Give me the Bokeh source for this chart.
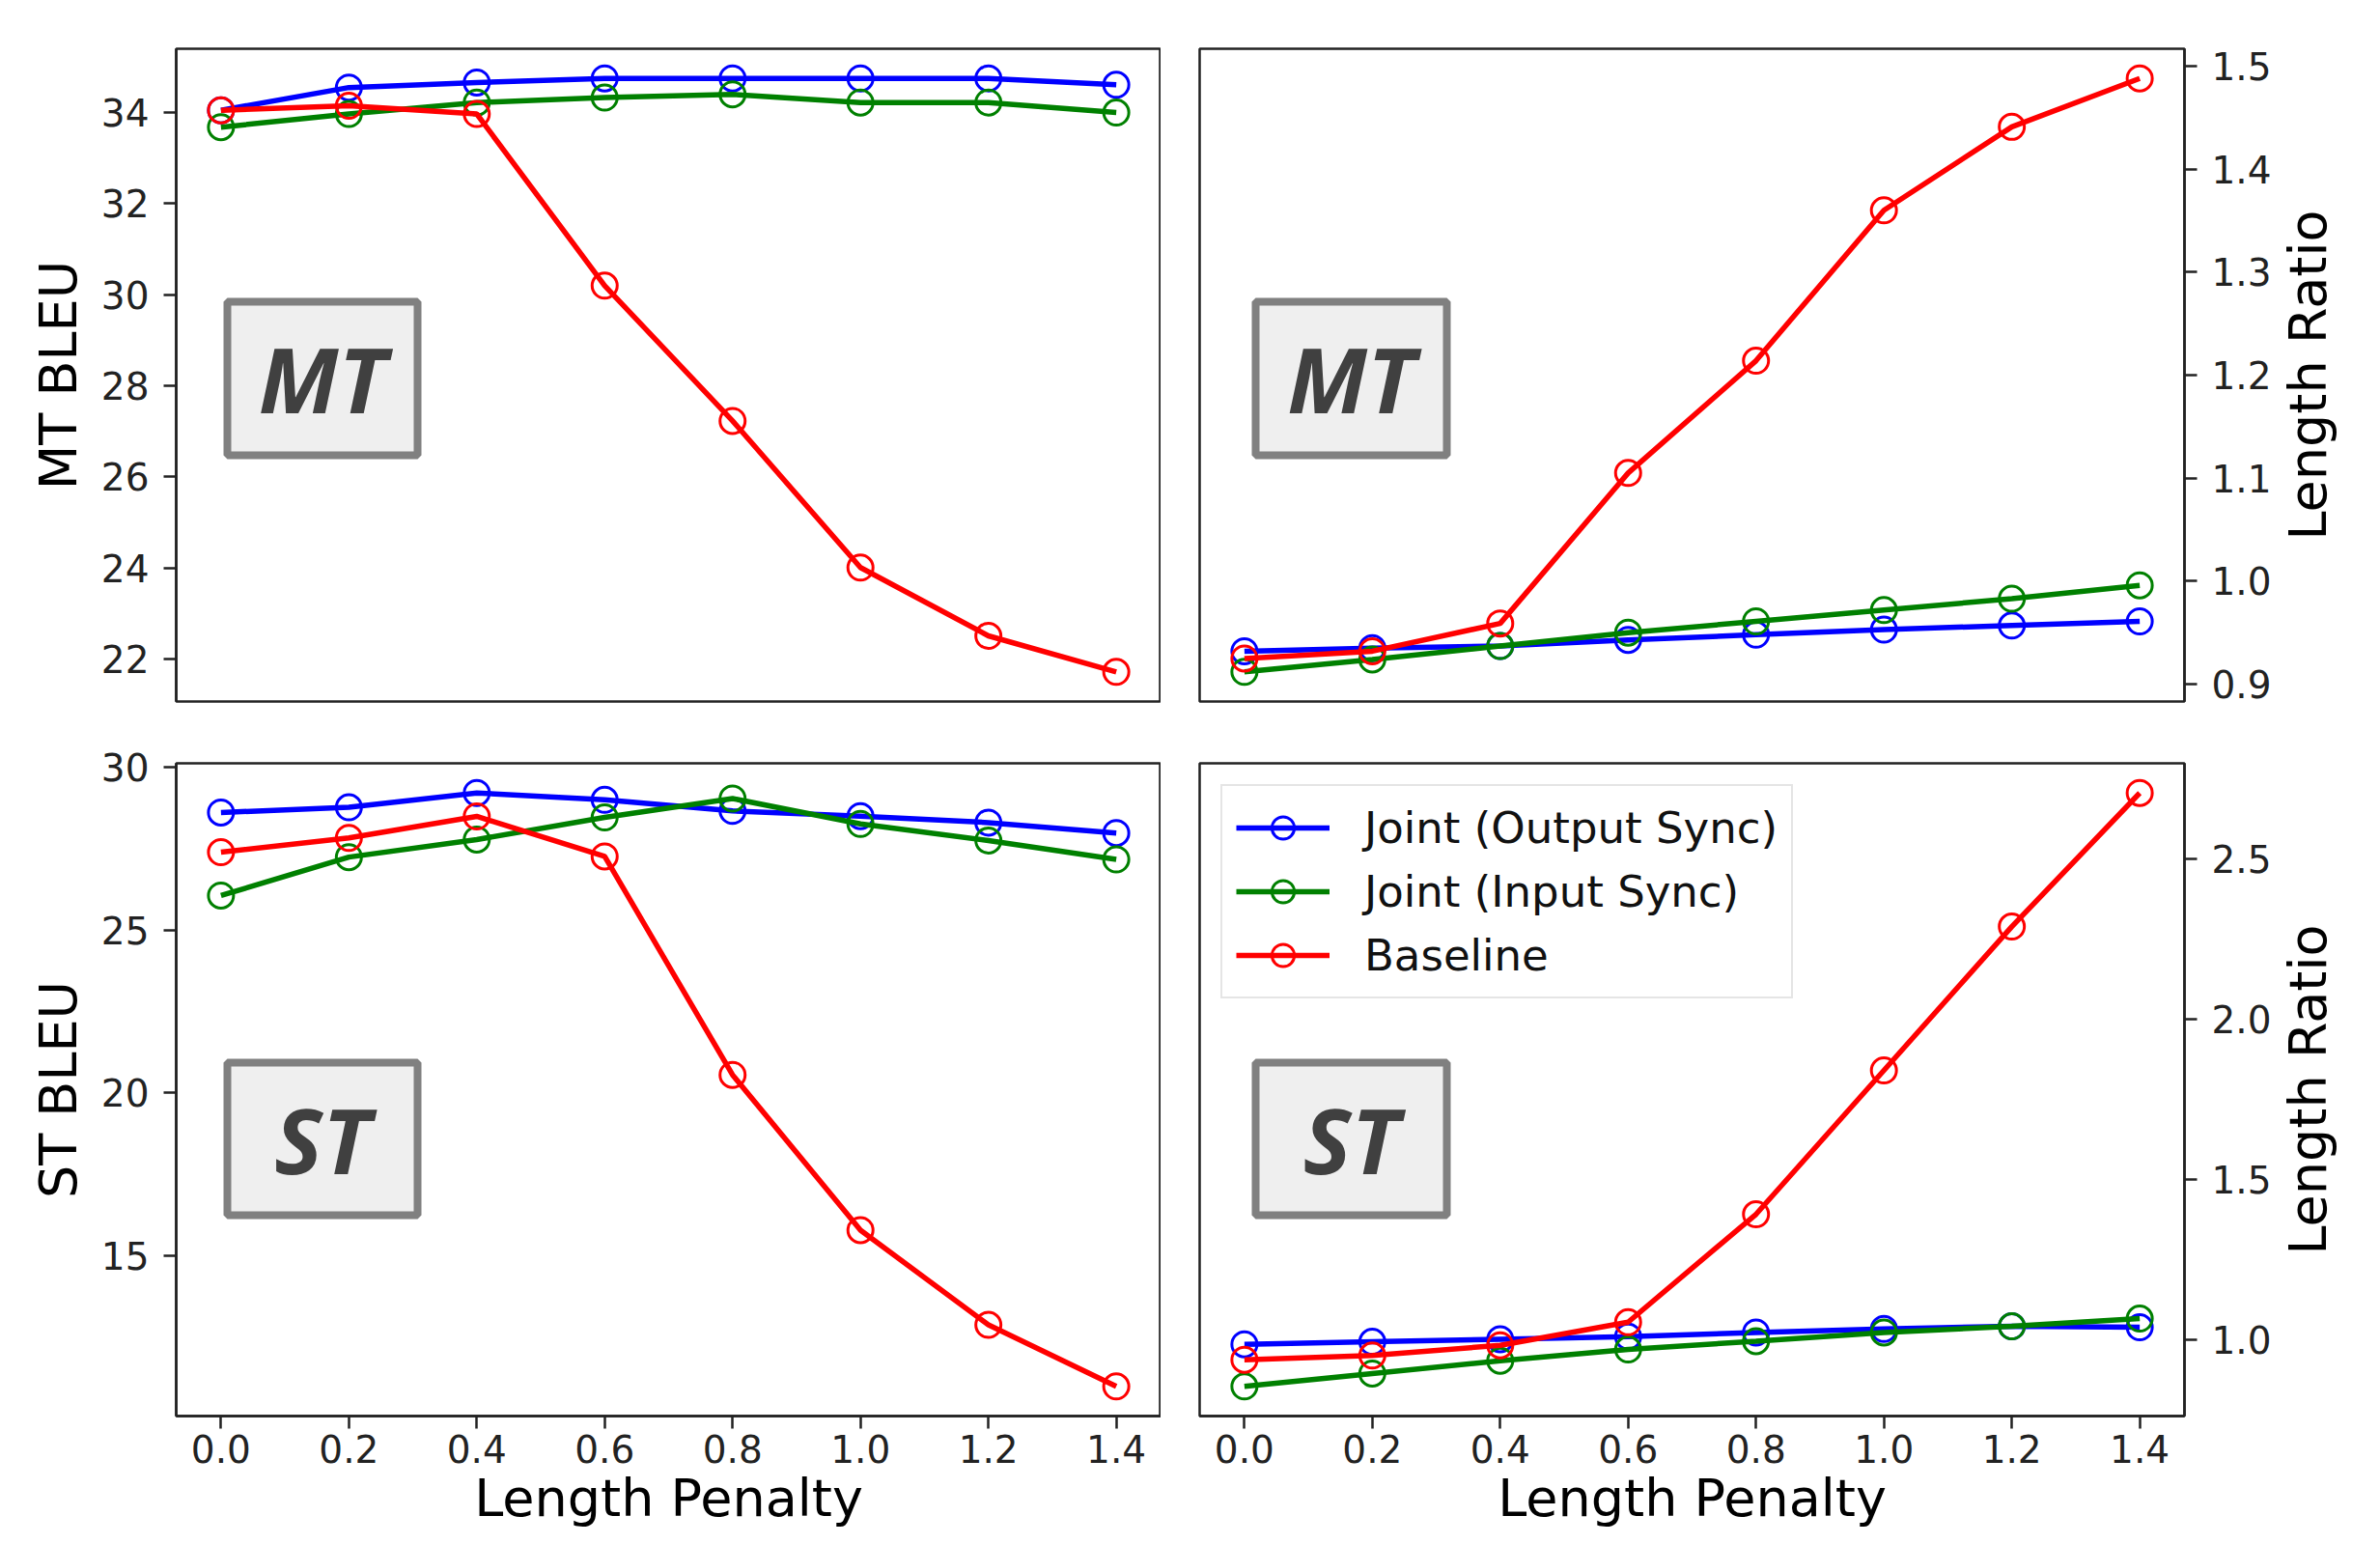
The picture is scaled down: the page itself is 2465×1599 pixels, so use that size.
import math
from bokeh.plotting import figure
from bokeh.layouts import column, row
from bokeh.models import (Range1d, FixedTicker, BoxAnnotation, Label, Legend,
                          LegendItem, PrintfTickFormatter)
from bokeh.core.properties import value
from bokeh.embed import file_html
from bokeh.resources import INLINE

# ---------------- data ----------------
length_penalty = [0.0, 0.2, 0.4, 0.6, 0.8, 1.0, 1.2, 1.4]
series_names = ["Joint (Output Sync)", "Joint (Input Sync)", "Baseline"]

mt_bleu_output_sync = [34.05, 34.55, 34.66, 34.75, 34.75, 34.75, 34.75, 34.61]
mt_bleu_input_sync = [33.68, 33.97, 34.22, 34.33, 34.40, 34.22, 34.22, 34.00]
mt_bleu_baseline = [34.05, 34.15, 33.97, 30.20, 27.23, 24.01, 22.51, 21.72]

mt_ratio_output_sync = [0.932, 0.935, 0.937, 0.943, 0.948, 0.953, 0.957, 0.961]
mt_ratio_input_sync = [0.912, 0.924, 0.937, 0.950, 0.961, 0.972, 0.983, 0.996]
mt_ratio_baseline = [0.925, 0.932, 0.959, 1.105, 1.214, 1.360, 1.441, 1.488]

st_bleu_output_sync = [28.61, 28.77, 29.21, 29.00, 28.66, 28.50, 28.30, 27.98]
st_bleu_input_sync = [26.06, 27.24, 27.78, 28.46, 29.04, 28.26, 27.75, 27.17]
st_bleu_baseline = [27.39, 27.83, 28.49, 27.26, 20.55, 15.78, 12.87, 10.98]

st_ratio_output_sync = [0.987, 0.995, 1.003, 1.011, 1.024, 1.035, 1.043, 1.040]
st_ratio_input_sync = [0.856, 0.896, 0.936, 0.971, 0.997, 1.024, 1.043, 1.067]
st_ratio_baseline = [0.939, 0.952, 0.984, 1.056, 1.392, 1.840, 2.288, 2.704]

x_ticks = [0.0, 0.2, 0.4, 0.6, 0.8, 1.0, 1.2, 1.4]
mt_bleu_ticks = [22, 24, 26, 28, 30, 32, 34]
mt_ratio_ticks = [0.9, 1.0, 1.1, 1.2, 1.3, 1.4, 1.5]
st_bleu_ticks = [15, 20, 25, 30]
st_ratio_ticks = [1.0, 1.5, 2.0, 2.5]

x_label = "Length Penalty"
ratio_label = "Length Ratio"

# ---------------- style ----------------
COLORS = ["#0000ff", "#008000", "#ff0000"]
FRAME_W, FRAME_H = 1020, 676
AX_COLOR = "#222222"
TICK_FONT = "39px"
LABEL_FONT = "54px"
FONT = "DejaVu Sans"


def border_tb(is_bottom):
    return (22, 130) if is_bottom else (50, 42)


def style_axis(ax, label=None, standoff=10, label_standoff=10):
    ax.axis_line_color = AX_COLOR
    ax.axis_line_width = 2.5
    ax.major_tick_line_color = AX_COLOR
    ax.major_tick_line_width = 2.5
    ax.major_tick_out = 13
    ax.major_tick_in = 0
    ax.minor_tick_line_color = None
    ax.major_label_text_font = FONT
    ax.major_label_text_font_size = TICK_FONT
    ax.major_label_text_color = AX_COLOR
    ax.major_label_standoff = standoff
    if label is not None:
        ax.axis_label = label
        ax.axis_label_text_font = FONT
        ax.axis_label_text_font_size = LABEL_FONT
        ax.axis_label_text_font_style = "normal"
        ax.axis_label_text_color = "#000000"
        ax.axis_label_standoff = label_standoff


def make_panel(series, y_ticks, y_fmt, y_label, is_left, is_bottom, tag,
               box_px, with_legend=False):
    vals = [v for s in series for v in s]
    lo, hi = min(vals), max(vals)
    pad = 0.05 * (hi - lo)
    x0, x1 = -0.07, 1.47
    y0, y1 = lo - pad, hi + pad
    bt_, bb_ = border_tb(is_bottom)
    p = figure(frame_width=FRAME_W, frame_height=FRAME_H,
               x_range=Range1d(x0, x1), y_range=Range1d(y0, y1),
               output_backend="svg", toolbar_location=None,
               x_axis_location="below" if is_bottom else None,
               y_axis_location="left" if is_left else "right",
               min_border_left=182 if is_left else 40,
               min_border_right=0 if is_left else 89,
               min_border_top=bt_, min_border_bottom=bb_,
               background_fill_color="white", border_fill_color="white")
    p.grid.visible = False
    p.outline_line_color = AX_COLOR
    p.outline_line_width = 2.5
    p.outline_line_alpha = 1.0

    def fx(px):
        return x0 + px / FRAME_W * (x1 - x0)

    def fy(py):
        return y1 - py / FRAME_H * (y1 - y0)

    if is_bottom:
        xa = p.xaxis[0]
        xa.ticker = FixedTicker(ticks=x_ticks, minor_ticks=[])
        xa.formatter = PrintfTickFormatter(format="%.1f")
        style_axis(xa, x_label, standoff=6, label_standoff=2)
    ya = p.yaxis[0]
    ya.ticker = FixedTicker(ticks=y_ticks, minor_ticks=[])
    ya.formatter = PrintfTickFormatter(format=y_fmt)
    style_axis(ya, y_label if is_left else None, standoff=15, label_standoff=10)

    # MT / ST box (positions in frame pixels -> data)
    bl, br, bt, bb = box_px
    p.add_layout(BoxAnnotation(left=fx(bl), right=fx(br), top=fy(bt), bottom=fy(bb),
                               fill_color="#efefef", fill_alpha=1.0,
                               line_color="#808080", line_alpha=1.0, line_width=8))
    p.add_layout(Label(x=fx((bl + br) / 2), y=fy((bt + bb) / 2), text=tag,
                       text_align="center", text_baseline="middle",
                       text_font="Open Sans", text_font_size="94px",
                       text_font_style="bold italic", text_color="#404040"))

    items = []
    for s, c, name in zip(series, COLORS, series_names):
        lr = p.line(length_penalty, s, line_color=c, line_width=5.5)
        sr = p.scatter(length_penalty, s, marker="circle", size=26,
                       fill_color=None, line_color=c, line_width=3)
        items.append(LegendItem(label=name, renderers=[lr, sr]))
    if with_legend:
        leg = Legend(items=items, location="top_left",
                     label_text_font=FONT, label_text_font_size="45px",
                     label_text_color="#111111",
                     glyph_width=97, glyph_height=58, label_standoff=36,
                     spacing=8, padding=14, margin=22,
                     border_line_color="#cccccc", border_line_width=2,
                     background_fill_color="white", background_fill_alpha=0.85)
        p.add_layout(leg)
    return p


def make_side_label(text, is_bottom):
    """Narrow figure holding the right-hand axis title, reading bottom-to-top."""
    bt_, bb_ = border_tb(is_bottom)
    q = figure(frame_width=70, frame_height=FRAME_H,
               x_range=Range1d(-1, 1), y_range=Range1d(-1, 1),
               output_backend="svg", toolbar_location=None,
               x_axis_location=None, y_axis_location=None,
               min_border_left=0, min_border_right=0,
               min_border_top=bt_, min_border_bottom=bb_,
               background_fill_color="white", border_fill_color="white")
    q.grid.visible = False
    q.outline_line_color = None
    q.text(x=[0], y=[0], text=[text], angle=90, angle_units="deg",
           text_align="center", text_baseline="middle",
           text_font=value(FONT), text_font_size=value(LABEL_FONT),
           text_color="#000000")
    return q


p_tl = make_panel([mt_bleu_output_sync, mt_bleu_input_sync, mt_bleu_baseline],
                  mt_bleu_ticks, "%d", "MT BLEU", True, False, "MT",
                  (53, 250, 262, 421))
p_tr = make_panel([mt_ratio_output_sync, mt_ratio_input_sync, mt_ratio_baseline],
                  mt_ratio_ticks, "%.1f", ratio_label, False, False, "MT",
                  (58, 256, 262, 421))
p_bl = make_panel([st_bleu_output_sync, st_bleu_input_sync, st_bleu_baseline],
                  st_bleu_ticks, "%d", "ST BLEU", True, True, "ST",
                  (53, 250, 310, 468))
p_br = make_panel([st_ratio_output_sync, st_ratio_input_sync, st_ratio_baseline],
                  st_ratio_ticks, "%.1f", ratio_label, False, True, "ST",
                  (58, 256, 310, 468), with_legend=True)

layout = column(row(p_tl, p_tr, make_side_label(ratio_label, False)),
                row(p_bl, p_br, make_side_label(ratio_label, True)))
open("out.html", "w").write(file_html(layout, INLINE))
